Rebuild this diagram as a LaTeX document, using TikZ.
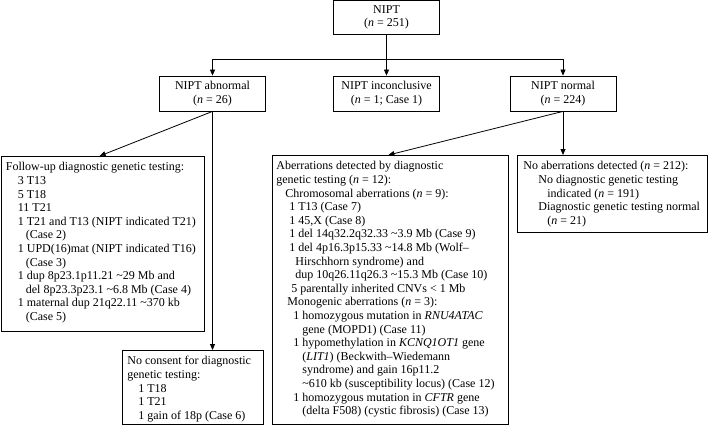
\documentclass[tikz,border=0pt]{standalone}
\usepackage{fontspec}
\setmainfont{Liberation Serif}
\usetikzlibrary{arrows.meta}
\newcommand\nn{\textit{n}}
\newcommand\tl{\textasciitilde}
\newcommand\Lx[2]{\par\noindent\hspace*{#1pt}#2}
\newcommand\Fx[2]{\noindent\rule{0pt}{14.5pt}\hspace*{#1pt}#2}
\newcommand\boxtext[3]{\parbox[c][#2pt][t]{#1pt}{\fontsize{12}{13.6}\selectfont\parindent=0pt #3}}
\begin{document}
\begin{tikzpicture}[x=1pt,y=-1pt,
  tb/.style={draw, line width=0.8pt, minimum width=106pt, minimum height=34pt,
    align=center, inner sep=0pt, font=\fontsize{12}{13.6}\selectfont},
  bb/.style={draw, line width=0.8pt, inner sep=0pt, anchor=north west},
  arr/.style={line width=0.8pt, -{Triangle[length=6pt,width=5pt]}}]
\useasboundingbox (0,0) rectangle (709,425);

\node[tb, minimum height=33.6pt] (nipt) at (386.5,17.2) {NIPT\\(\nn{} = 251)};
\node[tb, minimum height=35pt] (abn) at (212.5,93.5) {NIPT abnormal\\(\nn{} = 26)};
\node[tb, minimum height=35pt] (inc) at (386.5,93.5) {NIPT inconclusive\\(\nn{} = 1; Case 1)};
\node[tb, minimum height=35pt] (nor) at (563,93.5) {NIPT normal\\(\nn{} = 224)};

\node[bb] (fu) at (0.5,156) {\boxtext{203.5}{175}{%
\Fx{5}{Follow-up diagnostic genetic testing:}
\Lx{17}{3 T13}
\Lx{17}{5 T18}
\Lx{17}{11 T21}
\Lx{17}{1 T21 and T13 (NIPT indicated T21)}
\Lx{25}{(Case 2)}
\Lx{17}{1 UPD(16)mat (NIPT indicated T16)}
\Lx{25}{(Case 3)}
\Lx{17}{1 dup 8p23.1p11.21 \tl29 Mb and}
\Lx{25}{del 8p23.3p23.1 \tl6.8 Mb (Case 4)}
\Lx{17}{1 maternal dup 21q22.11 \tl370 kb}
\Lx{25}{(Case 5)}}};

\node[bb] (nc) at (122,350) {\boxtext{141}{74}{%
\Fx{5}{No consent for diagnostic}
\Lx{5}{genetic testing:}
\Lx{16}{1 T18}
\Lx{16}{1 T21}
\Lx{16}{1 gain of 18p (Case 6)}}};

\node[bb] (mid) at (272,155) {\boxtext{236}{269}{%
\Fx{4}{Aberrations detected by diagnostic}
\Lx{4}{genetic testing (\nn{} = 12):}
\Lx{13}{Chromosomal aberrations (\nn{} = 9):}
\Lx{17}{1 T13 (Case 7)}
\Lx{17}{1 45,X (Case 8)}
\Lx{17}{1 del 14q32.2q32.33 \tl3.9 Mb (Case 9)}
\Lx{17}{1 del 4p16.3p15.33 \tl14.8 Mb (Wolf--}
\Lx{23}{Hirschhorn syndrome) and}
\Lx{23}{dup 10q26.11q26.3 \tl15.3 Mb (Case 10)}
\Lx{19}{5 parentally inherited CNVs < 1 Mb}
\Lx{15}{Monogenic aberrations (\nn{} = 3):}
\Lx{21}{1 homozygous mutation in \textit{RNU4ATAC}}
\Lx{30}{gene (MOPD1) (Case 11)}
\Lx{21}{1 hypomethylation in \textit{KCNQ1OT1} gene}
\Lx{30}{(\textit{LIT1}) (Beckwith--Wiedemann}
\Lx{30}{syndrome) and gain 16p11.2}
\Lx{30}{\tl610 kb (susceptibility locus) (Case 12)}
\Lx{21}{1 homozygous mutation in \textit{CFTR} gene}
\Lx{30}{(delta F508) (cystic fibrosis) (Case 13)}}};

\node[bb] (rt) at (517,155) {\boxtext{190}{77}{%
\Fx{6}{No aberrations detected (\nn{} = 212):}
\Lx{21}{No diagnostic genetic testing}
\Lx{30}{indicated (\nn{} = 191)}
\Lx{21}{Diagnostic genetic testing normal}
\Lx{30}{(\nn{} = 21)}}};

\coordinate (sp) at (386.5,59);
\draw[arr] (nipt) -- (inc);
\draw[arr] (sp) -| (abn);
\draw[arr] (sp) -| (nor);
\draw[arr] (abn.south) -- ([xshift=-3pt]fu.north);
\draw[arr] (abn.south) -- (abn.south |- nc.north);
\draw[arr] (nor.south) -- ([xshift=-2pt]mid.north);
\draw[arr] (nor.south) -- (nor.south |- rt.north);
\end{tikzpicture}
\end{document}
